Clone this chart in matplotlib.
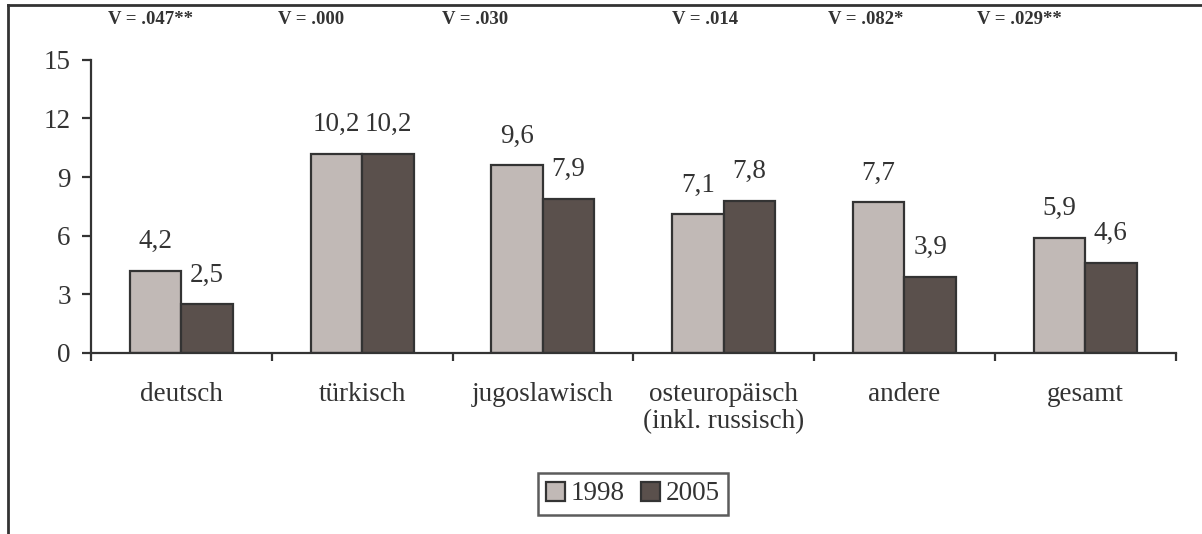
import numpy as np
import matplotlib.pyplot as plt
from matplotlib.lines import Line2D
from matplotlib.patches import Patch

plt.rcParams['font.family'] = ['Liberation Serif', 'DejaVu Serif']

# data
CATEGORIES = ["deutsch", "türkisch", "jugoslawisch",
              "osteuropäisch\n(inkl. russisch)", "andere", "gesamt"]
VALUES_1998 = [4.2, 10.2, 9.6, 7.1, 7.7, 5.9]
VALUES_2005 = [2.5, 10.2, 7.9, 7.8, 3.9, 4.6]
V_LABELS = ["V = .047**", "V = .000", "V = .030",
            "V = .014", "V = .082*", "V = .029**"]
YEARS = ["1998", "2005"]

# style
C_1998 = "#c1b9b6"
C_2005 = "#5a504c"
EDGE = "#333333"
TXT = "#333333"
BAR_W = 0.285
FS = 19.5
V_X_OFFSETS = [-0.406, -0.466, -0.559, -0.286, -0.424, -0.600]  # left edge relative to category centre

fig = plt.figure(figsize=(12.02, 5.34), dpi=100)
ax = fig.add_axes([0.0757, 0.339, 0.978 - 0.0757, 0.888 - 0.339])

x = np.arange(len(CATEGORIES))
b1 = ax.bar(x - BAR_W / 2, VALUES_1998, BAR_W, color=C_1998, edgecolor=EDGE, linewidth=1.6)
b2 = ax.bar(x + BAR_W / 2, VALUES_2005, BAR_W, color=C_2005, edgecolor=EDGE, linewidth=1.6)

for bars, vals in ((b1, VALUES_1998), (b2, VALUES_2005)):
    ax.bar_label(bars, labels=[f"{v:.1f}".replace(".", ",") for v in vals],
                 padding=12, fontsize=FS, color=TXT)

ax.set_xlim(-0.5, len(CATEGORIES) - 0.5)
ax.set_ylim(0, 15)
ax.set_yticks(np.arange(0, 16, 3))
ax.tick_params(axis="y", direction="out", length=6.5, width=1.6, color=EDGE,
               labelsize=FS, labelcolor=TXT, pad=8)

ax.set_xticks(x)
ax.set_xticklabels(CATEGORIES, fontsize=FS, color=TXT, linespacing=1.1)
ax.tick_params(axis="x", which="major", length=0, pad=21)
ax.set_xticks(np.arange(-0.5, len(CATEGORIES)), minor=True)
ax.tick_params(axis="x", which="minor", direction="out", length=6, width=1.6, color=EDGE)

for s in ("top", "right"):
    ax.spines[s].set_visible(False)
for s in ("left", "bottom"):
    ax.spines[s].set_color(EDGE)
    ax.spines[s].set_linewidth(1.6)

# Cramer's V labels above the plot
for i, lab in enumerate(V_LABELS):
    ax.text(i + V_X_OFFSETS[i], 1.122, lab, transform=ax.get_xaxis_transform(),
            ha="left", va="baseline", fontsize=13.5, fontweight="bold", color=TXT)

handles = [Patch(facecolor=C_1998, edgecolor=EDGE, linewidth=1.6),
           Patch(facecolor=C_2005, edgecolor=EDGE, linewidth=1.6)]
leg = fig.legend(handles, YEARS, loc="center", bbox_to_anchor=(633 / 1202, 1 - 494 / 534),
                 ncol=2, fontsize=FS, frameon=True, fancybox=False,
                 handlelength=0.7, handleheight=0.7, handletextpad=0.2,
                 columnspacing=0.6, borderpad=0.3, borderaxespad=0)
leg.get_frame().set_edgecolor(EDGE)
leg.get_frame().set_linewidth(1.8)
for t in leg.get_texts():
    t.set_color(TXT)

# outer frame (only top and left edges visible)
fig.add_artist(Line2D([8 / 1202, 1], [1 - 5 / 534, 1 - 5 / 534], color=EDGE, lw=2))
fig.add_artist(Line2D([8 / 1202, 8 / 1202], [0, 1 - 5 / 534], color=EDGE, lw=2))

fig.savefig("out.png", dpi=100)
